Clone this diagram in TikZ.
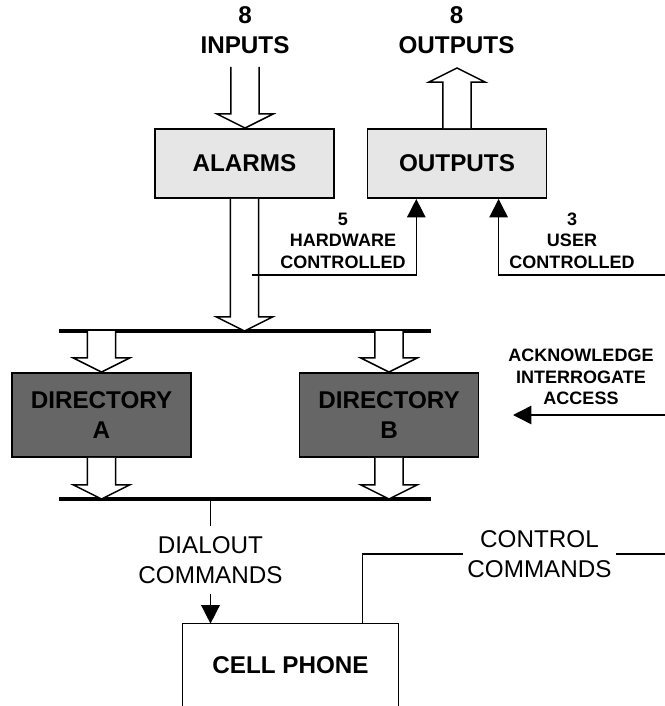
\documentclass[tikz,border=0pt]{standalone}
\usepackage{fontspec}
\setmainfont{Liberation Sans}
\usepackage{tikz}
\usetikzlibrary{arrows.meta,positioning,calc}
\definecolor{panelgray}{RGB}{230,230,230}
\definecolor{dirgray}{RGB}{102,102,102}
\newcommand{\biglbl}{\fontsize{13.8pt}{17.1pt}\selectfont}
\newcommand{\smalllbl}{\fontsize{10.25pt}{12.2pt}\selectfont}
% wide hollow arrow, vertical, from #1 to #2
\newcommand{\fatarrow}[2]{%
  \draw[fatarr] let \p1=(#1), \p2=(#2), \p3=($(#2)!8pt!(#1)$) in
    ({\x1-8pt},\y1) -- ({\x1-8pt},\y3) -- ({\x1-16pt},\y3) -- (\x1,\y2)
    -- ({\x1+16pt},\y3) -- ({\x1+8pt},\y3) -- ({\x1+8pt},\y1);}

\begin{document}
\begin{tikzpicture}[x=0.02cm,y=-0.02cm,
  unit/.style={draw,line width=1.1pt,inner sep=0pt,minimum width=3.58cm,minimum height=1.38cm,
    font=\biglbl\bfseries,align=center},
  lbl/.style={font=\biglbl\bfseries,align=center,inner sep=0pt},
  tag/.style={font=\smalllbl\bfseries,align=center,inner sep=0pt},
  cmd/.style={font=\biglbl,align=center,inner xsep=2.6pt,inner ysep=5.7pt},
  sig/.style={-{Triangle[length=10.5pt,width=10.5pt]},line width=0.85pt},
  wire/.style={line width=0.85pt},
  bus/.style={line width=2.3pt},
  fatarr/.style={draw,fill=white,line width=0.85pt}
]
  \useasboundingbox (0,0) rectangle (665,706);

  % Alarm and output panels
  \node[unit,fill=panelgray] (alarms) at (244.5,163.5) {ALARMS};
  \node[unit,fill=panelgray] (outputs) at (457,163.5) {OUTPUTS};
  \node[lbl] (inlbl) at (245,30) {8\\INPUTS};
  \node[lbl] (outlbl) at (456.5,30) {8\\OUTPUTS};

  % Directories
  \node[unit,fill=dirgray,minimum height=1.68cm] (dira) at (101.5,415) {DIRECTORY\\A};
  \node[unit,fill=dirgray,minimum height=1.68cm] (dirb) at (389,415) {DIRECTORY\\B};

  % Buses
  \coordinate (bus1l) at (59,331); \coordinate (bus1r) at (431,331);
  \coordinate (bus2l) at (59,499); \coordinate (bus2r) at (431,499);
  \draw[bus] (bus1l) -- (bus1r);
  \draw[bus] (bus2l) -- (bus2r);

  % Wide arrows
  \coordinate (intop) at (245,67);
  \coordinate (outtop) at (457,68);
  \fatarrow{intop}{alarms.north}
  \fatarrow{outputs.north}{outtop}
  \fatarrow{alarms.south}{alarms.south |- bus1l}
  \fatarrow{dira.north |- bus1l}{dira.north}
  \fatarrow{dirb.north |- bus1l}{dirb.north}
  \fatarrow{dira.south}{dira.south |- bus2l}
  \fatarrow{dirb.south}{dirb.south |- bus2l}

  % Control lines into outputs
  \coordinate (hwstart) at (252,275);
  \coordinate (usrstart) at (665,275);
  \draw[sig] (hwstart) -| ($(outputs.south west)!0.275!(outputs.south east)$);
  \draw[sig] (usrstart) -| ($(outputs.south west)!0.73!(outputs.south east)$);
  \node[tag] (hwlbl) at (343,240.5) {5\\HARDWARE\\CONTROLLED};
  \node[tag] (usrlbl) at (572,240.5) {3\\USER\\CONTROLLED};

  % Access line into directory B
  \coordinate (ackstart) at (665,415);
  \coordinate (ackend) at (513,415);
  \draw[sig] (ackstart) -- (ackend);
  \node[tag] (acklbl) at (581,377) {ACKNOWLEDGE\\INTERROGATE\\ACCESS};

  % Cell phone
  \node[font=\biglbl\bfseries,minimum width=4.3cm,minimum height=1.64cm,inner sep=0pt] (phone)
    at (290.5,665) {CELL PHONE};
  \draw[wire] (phone.south west) |- (phone.north east) -- (phone.south east);

  \node[cmd] (dialbl) at (210.5,560) {DIALOUT\\COMMANDS};
  \draw[wire] (dialbl.north |- bus2l) -- (dialbl.north);
  \draw[sig] (dialbl.south) -- (dialbl.south |- phone.north);

  \node[cmd] (ctllbl) at (539.5,554) {CONTROL\\COMMANDS};
  \coordinate (ctlend) at (665,554);
  \draw[wire] ($(phone.north west)!0.833!(phone.north east)$) |- (ctllbl.west);
  \draw[wire] (ctllbl.east) -- (ctlend);
\end{tikzpicture}
\end{document}
